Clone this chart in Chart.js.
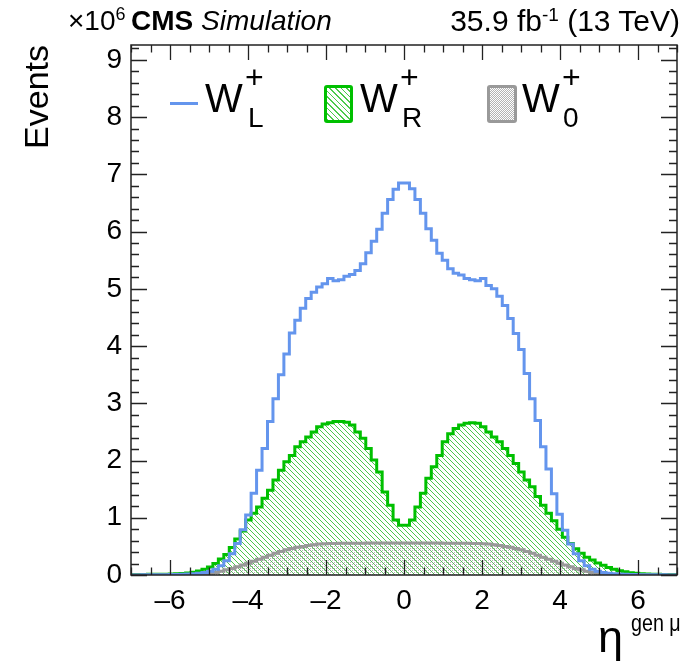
<!DOCTYPE html>
<html>
<head>
<meta charset="utf-8">
<script src="https://cdn.jsdelivr.net/npm/chart.js@4.4.1/dist/chart.umd.min.js"></script>
<style>
  body { margin: 0; background: #fff; }
  #wrap { position: relative; width: 687px; height: 667px; font-family: "Liberation Sans", Arial, sans-serif; color: #000; }
  #wrap canvas { position: absolute; left: 0; top: 0; }
  .txt { position: absolute; white-space: nowrap; line-height: 1; }
  .sup { font-size: 18px; vertical-align: 10px; line-height: 0; }
  .box { position: absolute; box-sizing: border-box; border-radius: 3px; }
</style>
</head>
<body>
<div id="wrap">
  <canvas id="chart" width="687" height="667"></canvas>

  <!-- header -->
  <div class="txt" style="left:68px; top:7px; font-size:28px">×10<span class="sup">6</span></div>
  <div class="txt" style="left:131px; top:7px; font-size:28px"><b>CMS</b> <i>Simulation</i></div>
  <div class="txt" style="right:7px; top:6px; font-size:30px">35.9 fb<span class="sup" style="font-size:19px">-1</span> (13 TeV)</div>

  <!-- legend -->
  <div style="position:absolute; left:170px; top:102px; width:28px; height:3px; background:#6495ed"></div>
  <div class="txt" style="left:205px; top:78px; font-size:40px">W</div>
  <div class="txt" style="left:245px; top:61px; font-size:32px">+</div>
  <div class="txt" style="left:248px; top:104px; font-size:28px">L</div>

  <div class="box" style="left:324px; top:85px; width:29px; height:38px; border:3px solid #00c000;
       background:repeating-linear-gradient(45deg, rgba(0,180,0,0.7) 0 1px, transparent 1px 4px)"></div>
  <div class="txt" style="left:360px; top:78px; font-size:40px">W</div>
  <div class="txt" style="left:400px; top:61px; font-size:32px">+</div>
  <div class="txt" style="left:402px; top:104px; font-size:28px">R</div>

  <div class="box" style="left:487px; top:85px; width:30px; height:38px; border:3px solid #999;
       background:repeating-conic-gradient(#b4b4b4 0 25%, #fff 0 50%) 0 0/2px 2px"></div>
  <div class="txt" style="left:522px; top:78px; font-size:40px">W</div>
  <div class="txt" style="left:562px; top:61px; font-size:32px">+</div>
  <div class="txt" style="left:563px; top:104px; font-size:28px">0</div>

  <!-- x axis title -->
  <div class="txt" style="left:598px; top:614px; font-size:45px">η</div>
  <div class="txt" style="left:631px; top:611px; font-size:24px; transform:scaleX(0.82); transform-origin:left top">gen μ</div>
</div>

<script>
// 100 bins of width 0.14 from eta = -7 to 7
const binLow = -7;
const binWidth = 0.14;

const wL = [
  0.002, 0.002, 0.003, 0.003, 0.004, 0.005, 0.006, 0.008, 0.010, 0.013,
  0.017, 0.023, 0.032, 0.045, 0.065, 0.10, 0.16, 0.25, 0.37, 0.55,
  0.79, 1.05, 1.43, 1.83, 2.21, 2.68, 3.08, 3.50, 3.86, 4.23,
  4.45, 4.66, 4.83, 4.94, 5.03, 5.09, 5.18, 5.14, 5.16, 5.22,
  5.25, 5.32, 5.44, 5.63, 5.83, 6.04, 6.32, 6.56, 6.74, 6.85,
  6.85, 6.75, 6.56, 6.32, 6.05, 5.85, 5.62, 5.50, 5.35, 5.27,
  5.24, 5.18, 5.16, 5.14, 5.18, 5.06, 5.00, 4.87, 4.71, 4.48,
  4.22, 3.94, 3.52, 3.08, 2.70, 2.24, 1.85, 1.42, 1.06, 0.78,
  0.54, 0.37, 0.25, 0.16, 0.10, 0.065, 0.045, 0.032, 0.023, 0.017,
  0.013, 0.010, 0.008, 0.006, 0.005, 0.004, 0.003, 0.003, 0.002, 0.002
];

const wR = [
  0.008, 0.009, 0.010, 0.011, 0.012, 0.013, 0.015, 0.017, 0.020, 0.025,
  0.035, 0.050, 0.070, 0.100, 0.140, 0.20, 0.28, 0.36, 0.48, 0.63,
  0.77, 0.96, 1.08, 1.19, 1.34, 1.48, 1.66, 1.83, 1.98, 2.09,
  2.24, 2.33, 2.41, 2.50, 2.59, 2.64, 2.66, 2.68, 2.68, 2.67,
  2.62, 2.50, 2.39, 2.21, 2.01, 1.80, 1.45, 1.22, 0.96, 0.87,
  0.87, 0.96, 1.19, 1.43, 1.69, 1.89, 2.09, 2.33, 2.47, 2.56,
  2.62, 2.65, 2.66, 2.65, 2.59, 2.50, 2.41, 2.33, 2.21, 2.09,
  1.95, 1.80, 1.66, 1.54, 1.37, 1.22, 1.08, 0.95, 0.80, 0.66,
  0.55, 0.46, 0.38, 0.31, 0.26, 0.21, 0.17, 0.13, 0.10, 0.075,
  0.055, 0.040, 0.030, 0.022, 0.017, 0.014, 0.012, 0.010, 0.009, 0.008
];

const w0 = [
  0.001, 0.001, 0.001, 0.001, 0.001, 0.001, 0.001, 0.001, 0.001, 0.001,
  0.003, 0.005, 0.010, 0.018, 0.030, 0.045, 0.065, 0.090, 0.115, 0.145,
  0.175, 0.205, 0.240, 0.275, 0.310, 0.345, 0.380, 0.410, 0.440, 0.465,
  0.485, 0.500, 0.515, 0.530, 0.540, 0.545, 0.550, 0.552, 0.553, 0.554,
  0.555, 0.556, 0.556, 0.557, 0.557, 0.558, 0.558, 0.558, 0.559, 0.559,
  0.559, 0.559, 0.558, 0.558, 0.558, 0.557, 0.557, 0.556, 0.556, 0.555,
  0.554, 0.553, 0.552, 0.550, 0.545, 0.540, 0.530, 0.515, 0.500, 0.485,
  0.465, 0.440, 0.410, 0.380, 0.345, 0.310, 0.275, 0.240, 0.205, 0.175,
  0.145, 0.115, 0.090, 0.065, 0.045, 0.030, 0.018, 0.010, 0.005, 0.003,
  0.001, 0.001, 0.001, 0.001, 0.001, 0.001, 0.001, 0.001, 0.001, 0.001
];

const xTicks = [-6, -4, -2, 0, 2, 4, 6];
const yTicks = [0, 1, 2, 3, 4, 5, 6, 7, 8, 9];

// histogram -> step points at bin edges (last edge repeats last value)
function toSteps(vals) {
  const pts = vals.map((v, i) => ({ x: binLow + binWidth * i, y: v }));
  pts.push({ x: binLow + binWidth * vals.length, y: vals[vals.length - 1] });
  return pts;
}

function makePattern(draw, size) {
  const c = document.createElement('canvas');
  c.width = size; c.height = size;
  draw(c.getContext('2d'), size);
  return c.getContext('2d').createPattern(c, 'repeat');
}

const hatch = makePattern((g, s) => {
  g.strokeStyle = 'rgba(0,175,0,0.7)';
  g.lineWidth = 1;
  g.beginPath();
  g.moveTo(-1, -1); g.lineTo(s + 1, s + 1);
  g.moveTo(-1, s - 1); g.lineTo(1, s + 1);
  g.moveTo(s - 1, -1); g.lineTo(s + 1, 1);
  g.stroke();
}, 5);

const dots = makePattern((g) => {
  g.fillStyle = 'rgba(150,150,150,0.7)';
  g.fillRect(0, 0, 1, 1);
}, 2);

const framePlugin = {
  id: 'frame',
  afterDraw(chart) {
    const { ctx, chartArea: a, scales: { x, y } } = chart;
    ctx.save();
    ctx.strokeStyle = '#222';
    ctx.lineWidth = 1.5;
    ctx.strokeRect(a.left, a.top, a.right - a.left, a.bottom - a.top);
    ctx.lineWidth = 1.3;
    ctx.beginPath();
    for (let k = 0; k <= 28; k++) {
      const v = -7 + k * 0.5;
      const px = Math.round(x.getPixelForValue(v)) + 0.5;
      const len = xTicks.includes(v) ? 15 : 7.5;
      ctx.moveTo(px, a.bottom); ctx.lineTo(px, a.bottom - len);
      ctx.moveTo(px, a.top); ctx.lineTo(px, a.top + len);
    }
    for (let k = 0; k <= 46; k++) {
      const v = Math.round(k * 2) / 10;
      const py = Math.round(y.getPixelForValue(v)) + 0.5;
      const len = (k % 5 === 0) ? 16 : 8;
      ctx.moveTo(a.left, py); ctx.lineTo(a.left + len, py);
      ctx.moveTo(a.right, py); ctx.lineTo(a.right - len, py);
    }
    ctx.stroke();
    ctx.restore();
  }
};

Chart.defaults.font.family = "'Liberation Sans', Arial, sans-serif";
Chart.defaults.color = '#000';

new Chart(document.getElementById('chart'), {
  type: 'line',
  data: {
    datasets: [
      {
        label: 'W_L',
        data: toSteps(wL),
        borderColor: '#6495ed',
        borderWidth: 3,
        fill: false,
        stepped: 'before',
        pointRadius: 0,
        order: 0
      },
      {
        label: 'W_0',
        data: toSteps(w0),
        borderColor: '#999999',
        backgroundColor: dots,
        borderWidth: 3,
        fill: 'origin',
        stepped: 'before',
        pointRadius: 0,
        order: 1
      },
      {
        label: 'W_R',
        data: toSteps(wR),
        borderColor: '#00c000',
        backgroundColor: hatch,
        borderWidth: 3,
        fill: 'origin',
        stepped: 'before',
        pointRadius: 0,
        order: 2
      }
    ]
  },
  options: {
    responsive: false,
    animation: false,
    events: [],
    layout: { padding: { top: 45, right: 10, left: 0, bottom: 0 } },
    plugins: { legend: { display: false }, tooltip: { enabled: false } },
    scales: {
      x: {
        type: 'linear',
        min: -7,
        max: 7,
        grid: { display: false, drawTicks: false },
        border: { display: false },
        afterBuildTicks: (axis) => { axis.ticks = xTicks.map(v => ({ value: v })); },
        afterFit: (axis) => { axis.height = 92; },
        ticks: {
          font: { size: 28 },
          padding: 9,
          maxRotation: 0,
          autoSkip: false,
          callback: (v) => (v < 0 ? '\u2013' + Math.abs(v) : String(v))
        }
      },
      y: {
        min: 0,
        max: 9.26,
        grid: { display: false, drawTicks: false },
        border: { display: false },
        afterBuildTicks: (axis) => { axis.ticks = yTicks.map(v => ({ value: v })); },
        afterFit: (axis) => { axis.width = 131; },
        ticks: { font: { size: 28 }, padding: 9 },
        title: {
          display: true,
          text: 'Events',
          align: 'end',
          font: { size: 34 },
          padding: { top: 18, bottom: 0 }
        }
      }
    }
  },
  plugins: [framePlugin]
});
</script>
</body>
</html>
